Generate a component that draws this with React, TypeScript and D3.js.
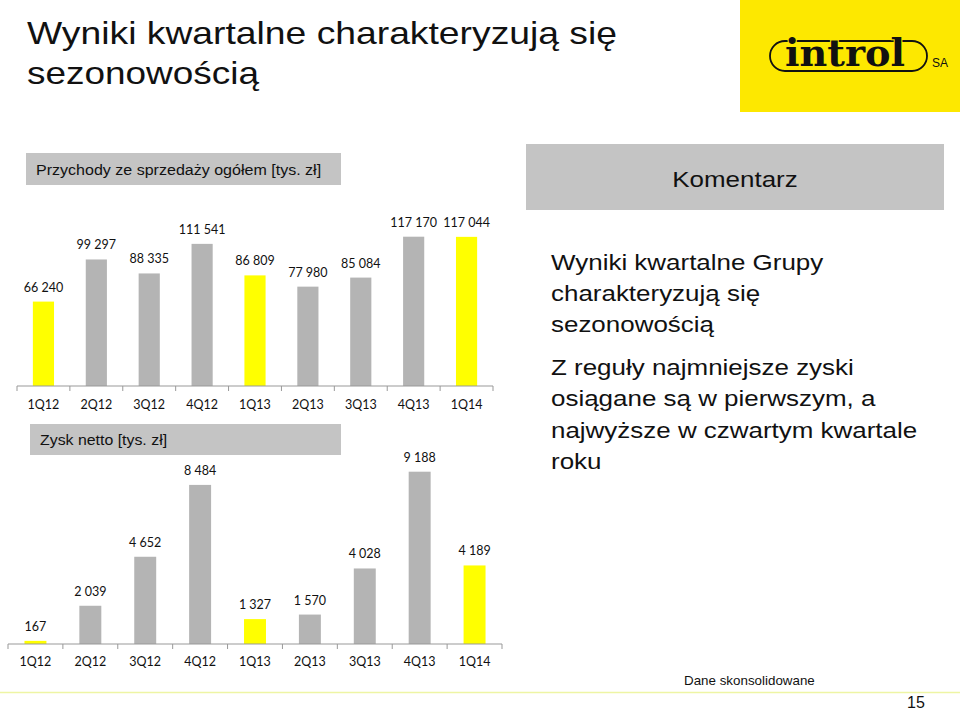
import React from "react";
import * as d3 from "d3";

const categories = ["1Q12", "2Q12", "3Q12", "4Q12", "1Q13", "2Q13", "3Q13", "4Q13", "1Q14"];
const revenue = [66240, 99297, 88335, 111541, 86809, 77980, 85084, 117170, 117044];
const netProfit = [167, 2039, 4652, 8484, 1327, 1570, 4028, 9188, 4189];
const highlighted = ["1Q12", "1Q13", "1Q14"];

const commentA = ["Wyniki kwartalne Grupy", "charakteryzują się", "sezonowością"];
const commentB = ["Z reguły najmniejsze zyski", "osiągane są w pierwszym, a", "najwyższe w czwartym kwartale", "roku"];

const GRAY = "#b4b4b4";
const YELLOW = "#ffff00";
const BOX = "#c4c4c4";
const SANS = "'Liberation Sans', Arial, sans-serif";
const NUM = "Lato, 'Open Sans', sans-serif";
const fmt = (v: number) => d3.format(",")(v).replace(/,/g, " ");

function BarChart(props: {
  values: number[];
  x0: number;
  x1: number;
  y0: number;
  yTop: number;
  barW: number;
  catY: number;
}) {
  const { values, x0, x1, y0, yTop, barW, catY } = props;
  const x = d3.scaleBand<string>().domain(categories).range([x0, x1]).padding(0);
  const y = d3.scaleLinear().domain([0, d3.max(values) as number]).range([y0, yTop]);
  const bw = x.bandwidth();
  const tickXs = categories.map((c) => x(c) as number).concat([x1]);
  return (
    <g>
      {values.map((v, i) => {
        const c = categories[i];
        const cx = (x(c) as number) + bw / 2;
        return (
          <g key={c}>
            <rect
              x={cx - (bw * barW) / 2}
              y={y(v)}
              width={bw * barW}
              height={y0 - y(v)}
              fill={highlighted.includes(c) ? YELLOW : GRAY}
            />
            <text x={cx} y={y(v) - 10} textAnchor="middle" fontFamily={NUM} fontSize={12.5} fill="#111">
              {fmt(v)}
            </text>
            <text x={cx} y={catY} textAnchor="middle" fontFamily={NUM} fontSize={12.5} fill="#111">
              {c}
            </text>
          </g>
        );
      })}
      <line x1={x0} x2={x1} y1={y0} y2={y0} stroke="#999" strokeWidth={1} />
      {tickXs.map((tx, i) => (
        <line key={i} x1={tx} x2={tx} y1={y0} y2={y0 + 5} stroke="#999" strokeWidth={1} />
      ))}
    </g>
  );
}

export default function App() {
  return (
    <svg width={960} height={712} style={{ position: "absolute", left: 0, top: 0, background: "#fff" }}>
      <rect x={0} y={0} width={960} height={712} fill="#fff" />
      {/* Title */}
      <g fontFamily={SANS} fill="#111">
        <text x={27} y={44} fontSize={32} textLength={590} lengthAdjust="spacingAndGlyphs">
          Wyniki kwartalne charakteryzują się
        </text>
        <text x={27} y={84} fontSize={32} textLength={232} lengthAdjust="spacingAndGlyphs">
          sezonowością
        </text>
      </g>

      {/* Logo */}
      <rect x={740} y={0} width={220} height={112} fill="#fde800" />
      <rect x={770} y={41} width={157} height={30} rx={15} fill="none" stroke="#111" strokeWidth={1.8} />
      <text
        x={785}
        y={66}
        fontFamily="'DejaVu Serif', serif"
        fontWeight="bold"
        fontSize={38}
        fill="#111"
        stroke="#fde800"
        strokeWidth={2}
        paintOrder="stroke"
        textLength={120}
        lengthAdjust="spacingAndGlyphs"
      >
        introl
      </text>
      <text x={932} y={67} fontFamily={SANS} fontSize={12} fill="#111">
        SA
      </text>

      {/* Section headers */}
      <rect x={26} y={153} width={315} height={32} fill={BOX} />
      <g transform="translate(36,175) scale(1.07,1)">
        <text x={0} y={0} fontFamily={SANS} fontSize={15} fill="#111">
          Przychody ze sprzedaży ogółem [tys. zł]
        </text>
      </g>
      <rect x={526} y={144} width={418} height={66} fill={BOX} />
      <g transform="translate(735,187) scale(1.18,1)">
        <text x={0} y={0} textAnchor="middle" fontFamily={SANS} fontSize={22} fill="#111">
          Komentarz
        </text>
      </g>

      {/* Revenue chart */}
      <BarChart values={revenue} x0={17} x1={493} y0={386} yTop={236.7} barW={0.4} catY={409} />

      {/* Net profit header */}
      <rect x={30} y={424} width={311} height={31} fill={BOX} />
      <g transform="translate(40,445) scale(1.06,1)">
        <text x={0} y={0} fontFamily={SANS} fontSize={15} fill="#111">
          Zysk netto [tys. zł]
        </text>
      </g>

      {/* Net profit chart */}
      <BarChart values={netProfit} x0={8} x1={502} y0={644} yTop={471.7} barW={0.4} catY={666} />

      {/* Comment text */}
      <g transform="translate(551,0) scale(1.18,1)" fontFamily={SANS} fontSize={22} fill="#111">
        {commentA.map((t, i) => (
          <text key={t} x={0} y={270 + i * 31}>
            {t}
          </text>
        ))}
        {commentB.map((t, i) => (
          <text key={t} x={0} y={375 + i * 31.5}>
            {t}
          </text>
        ))}
      </g>

      {/* Footer */}
      <line x1={0} x2={960} y1={692.5} y2={692.5} stroke="#eef5a4" strokeWidth={1.5} />
      <g transform="translate(684,685) scale(1.07,1)">
        <text x={0} y={0} fontFamily={SANS} fontSize={12.5} fill="#111">
          Dane skonsolidowane
        </text>
      </g>
      <text x={907} y={708} fontFamily={SANS} fontSize={16} fill="#111">
        15
      </text>
    </svg>
  );
}
